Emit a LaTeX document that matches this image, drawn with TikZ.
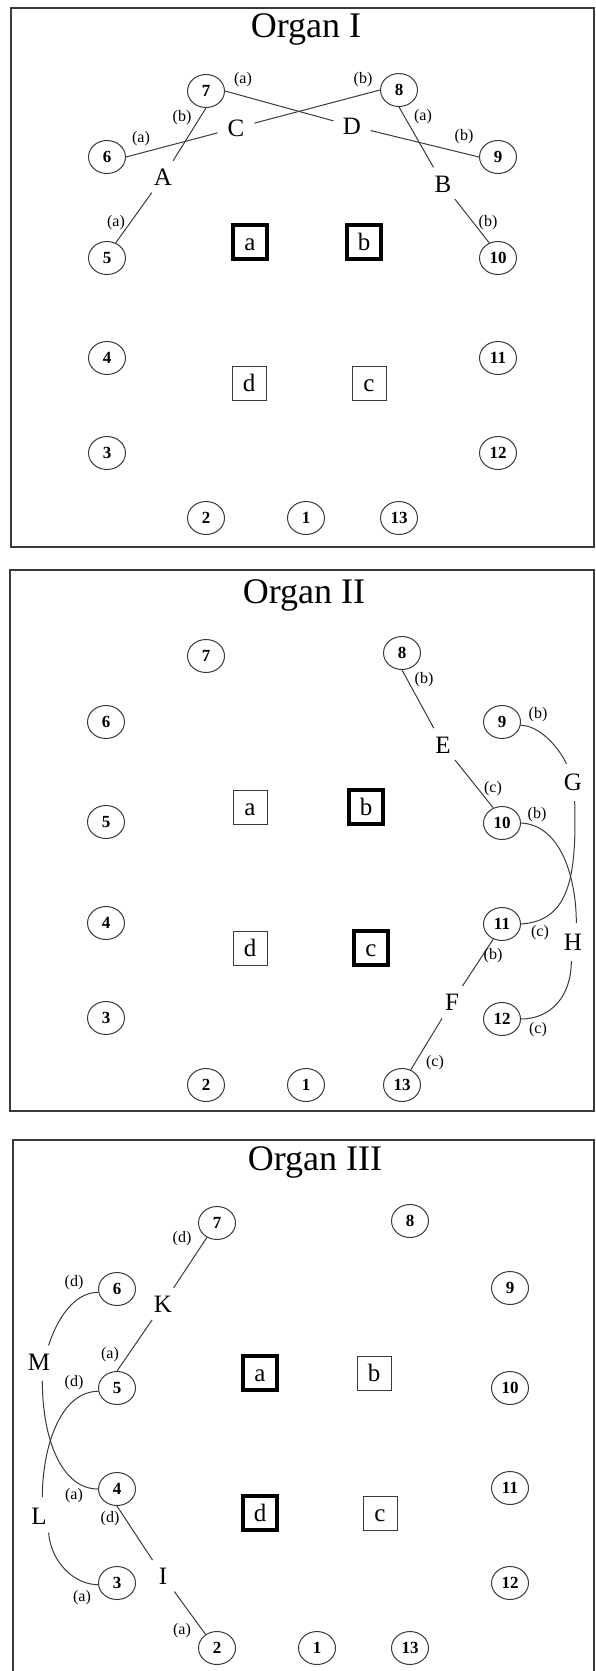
\documentclass[tikz,border=0pt]{standalone}
\usepackage{fontspec}
\setmainfont{Liberation Serif}
\usetikzlibrary{shapes.geometric}
\definecolor{ln}{HTML}{3A3A3A}
\tikzset{
 num/.style={ellipse, draw=ln, line width=1pt, minimum width=37pt, minimum height=33pt, inner sep=0pt, font=\fontsize{17}{17}\selectfont\bfseries},
 ltr/.style={circle, inner sep=0pt, minimum size=38pt, font=\fontsize{25}{25}\selectfont},
 bx/.style={draw=ln, line width=1pt, minimum size=34pt, inner sep=0pt, text height=17pt, text depth=0pt, font=\fontsize{25}{25}\selectfont},
 bxthick/.style={bx, draw=black, line width=3.5pt},
 elab/.style={inner sep=0pt, font=\fontsize{16}{16}\selectfont},
 ttl/.style={anchor=base, inner sep=0pt, font=\fontsize{36}{36}\selectfont},
 conn/.style={draw=ln, line width=1pt},
 frm/.style={draw=ln, line width=1.5pt},
}
\begin{document}
\begin{tikzpicture}[x=1pt,y=-1pt]
\useasboundingbox (0,0) rectangle (596,1671);

% ================= Organ I =================
\draw[frm] (11,8) rectangle (594,547);
\node[ttl] (t1) at (306,37) {Organ I};
\node[num] (a7) at (206,91) {7};
\node[num] (a8) at (399,90) {8};
\node[num] (a6) at (107,157) {6};
\node[num] (a9) at (498,157) {9};
\node[num] (a5) at (107,258) {5};
\node[num] (a10) at (498,258) {10};
\node[num] (a4) at (107,358) {4};
\node[num] (a11) at (498,358) {11};
\node[num] (a3) at (107,453) {3};
\node[num] (a12) at (498,453) {12};
\node[num] (a2) at (206,518) {2};
\node[num] (a1) at (306,518) {1};
\node[num] (a13) at (399,518) {13};
\node[bxthick] (aa) at (250,242) {a};
\node[bxthick] (ab) at (364,242) {b};
\node[bx] (ad) at (249,383) {d};
\node[bx] (ac) at (369,383) {c};
\node[ltr] (C) at (236,128) {C};
\node[ltr] (D) at (352,126) {D};
\node[ltr] (A) at (163,177) {A};
\node[ltr] (B) at (443,184) {B};
\draw[conn] (a7.east) -- (D);
\draw[conn] (a8.west) -- (C);
\draw[conn] (a6.east) -- (C);
\draw[conn] (a7.south) -- (A);
\draw[conn] (A) -- (a5.60);
\draw[conn] (a8.south) -- (B);
\draw[conn] (D) -- (a9.west);
\draw[conn] (B) -- (a10.120);
\node[elab] (e1) at (243,80) {(a)};
\node[elab] (e2) at (363,80) {(b)};
\node[elab] (e3) at (182,118) {(b)};
\node[elab] (e4) at (141,139) {(a)};
\node[elab] (e5) at (423,117) {(a)};
\node[elab] (e6) at (464,137) {(b)};
\node[elab] (e7) at (116,223) {(a)};
\node[elab] (e8) at (488,223) {(b)};

% ================= Organ II =================
\draw[frm] (10,570) rectangle (594,1111);
\node[ttl] (t2) at (304,603) {Organ II};
\node[num] (b7) at (206,656) {7};
\node[num] (b8) at (402,653) {8};
\node[num] (b6) at (106,722) {6};
\node[num] (b9) at (502,722) {9};
\node[num] (b5) at (106,822) {5};
\node[num] (b10) at (502,823) {10};
\node[num] (b4) at (106,923) {4};
\node[num] (b11) at (502,924) {11};
\node[num] (b3) at (106,1018) {3};
\node[num] (b12) at (502,1019) {12};
\node[num] (b2) at (206,1085) {2};
\node[num] (b1) at (306,1085) {1};
\node[num] (b13) at (402,1085) {13};
\node[bx] (ba) at (250,807) {a};
\node[bxthick] (bb) at (366,807) {b};
\node[bx] (bd) at (250,948) {d};
\node[bxthick] (bc) at (371,948) {c};
\node[ltr] (E) at (443,745) {E};
\node[ltr] (G) at (573,782) {G};
\node[ltr] (H) at (573,942) {H};
\node[ltr] (F) at (452,1002) {F};
\draw[conn] (b8.south) -- (E);
\draw[conn] (E) -- (b10.120);
\draw[conn] (b11.-120) -- (F);
\draw[conn] (F) -- (b13.60);
\draw[conn] (b9.-10) .. controls +(20,0) and +(-6,-14) .. (G.110);
\draw[conn] (G.-85) .. controls +(2,74) and +(49,-3) .. (b11.east);
\draw[conn] (b10.east) .. controls +(40,2) and +(0,-45) .. (H.80);
\draw[conn] (H.-95) .. controls +(0,35) and +(30,0) .. (b12.east);
\node[elab] (f1) at (424,680) {(b)};
\node[elab] (f2) at (538,715) {(b)};
\node[elab] (f3) at (493,789) {(c)};
\node[elab] (f4) at (537,815) {(b)};
\node[elab] (f5) at (540,933) {(c)};
\node[elab] (f6) at (493,956) {(b)};
\node[elab] (f7) at (538,1030) {(c)};
\node[elab] (f8) at (435,1063) {(c)};

% ================= Organ III =================
\draw[frm] (13,1140) rectangle (594,1680);
\node[ttl] (t3) at (315,1170) {Organ III};
\node[num] (c7) at (217,1223) {7};
\node[num] (c8) at (410,1221) {8};
\node[num] (c6) at (117,1289) {6};
\node[num] (c9) at (510,1288) {9};
\node[num] (c5) at (117,1388) {5};
\node[num] (c10) at (510,1388) {10};
\node[num] (c4) at (117,1489) {4};
\node[num] (c11) at (510,1488) {11};
\node[num] (c3) at (117,1583) {3};
\node[num] (c12) at (510,1583) {12};
\node[num] (c2) at (217,1648) {2};
\node[num] (c1) at (317,1648) {1};
\node[num] (c13) at (410,1648) {13};
\node[bxthick] (ca) at (260,1373) {a};
\node[bx] (cb) at (374,1373) {b};
\node[bxthick] (cd) at (260,1513) {d};
\node[bx] (cc) at (380,1513) {c};
\node[ltr] (K) at (163,1304) {K};
\node[ltr] (M) at (39,1362) {M};
\node[ltr] (L) at (39,1516) {L};
\node[ltr] (I) at (163,1576) {I};
\draw[conn] (c7.-125) -- (K);
\draw[conn] (K) -- (c5.north);
\draw[conn] (c4.south) -- (I);
\draw[conn] (I) -- (c2.130);
\draw[conn] (c6.190) .. controls +(-25,0) and +(8,-25) .. (M.60);
\draw[conn] (M.-80) .. controls +(0,59) and +(-36,0) .. (c4.west);
\draw[conn] (c5.190) .. controls +(-38,0) and +(0,-50) .. (L.80);
\draw[conn] (L.-60) .. controls +(2,28) and +(-25,0) .. (c3.185);
\node[elab] (g1) at (182,1239) {(d)};
\node[elab] (g2) at (74,1283) {(d)};
\node[elab] (g3) at (110,1355) {(a)};
\node[elab] (g4) at (74,1383) {(d)};
\node[elab] (g5) at (74,1496) {(a)};
\node[elab] (g6) at (110,1519) {(d)};
\node[elab] (g7) at (82,1598) {(a)};
\node[elab] (g8) at (182,1631) {(a)};
\end{tikzpicture}
\end{document}
